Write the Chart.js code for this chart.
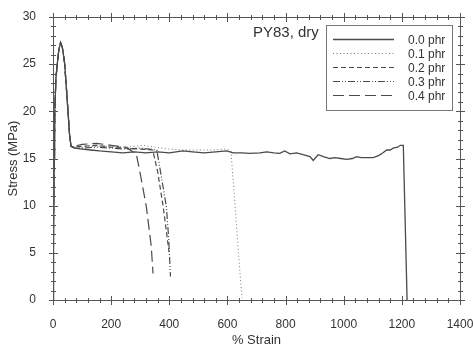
<!DOCTYPE html>
<html lang="en">
<head>
<meta charset="UTF-8" />
<title>PY83, dry</title>
<script src="https://cdn.jsdelivr.net/npm/chart.js"></script>
<style>
  body { margin: 0; background: #fff; }
  #wrap { position: relative; width: 473px; height: 348px; }
  #marco { position: absolute; left: 0; top: 0; pointer-events: none; }
</style>
</head>
<body>
<div id="wrap">
  <canvas id="grafico"></canvas>
  <canvas id="marco" width="473" height="348"></canvas>
</div>
<script>
// tick labels
const xTicks = [0, 200, 400, 600, 800, 1000, 1200, 1400];
const yTicks = [0, 5, 10, 15, 20, 25, 30];

// series names
const labels = ["0.0 phr", "0.1 phr", "0.2 phr", "0.3 phr", "0.4 phr"];

// 0.0 phr
const strain00 = [0, 2, 4, 6, 10, 15, 20, 26, 32, 40, 46, 52, 57, 62, 75, 100, 130, 160, 200, 240, 280, 320, 360, 400, 447, 480, 520, 560, 597, 620, 650, 677, 712, 735, 760, 780, 797, 815, 838, 860, 884, 895, 912, 930, 952, 970, 990, 1010, 1030, 1044, 1060, 1080, 1101, 1120, 1135, 1148, 1160, 1170, 1185, 1195, 1205, 1218];
const stress00 = [0, 8, 15, 19.8, 23.5, 25.1, 26.5, 27.3, 26.8, 25.1, 22.5, 19.8, 17.5, 16.3, 16.1, 16.0, 15.9, 15.8, 15.7, 15.6, 15.7, 15.6, 15.7, 15.6, 15.8, 15.7, 15.6, 15.7, 15.8, 15.6, 15.6, 15.55, 15.6, 15.7, 15.6, 15.55, 15.8, 15.5, 15.6, 15.4, 15.2, 14.8, 15.4, 15.2, 15.0, 15.1, 15.0, 14.9, 15.0, 15.2, 15.1, 15.1, 15.1, 15.3, 15.6, 15.9, 15.9, 16.1, 16.2, 16.4, 16.4, 0];

// 0.1 phr
const strain01 = [0, 2, 4, 6, 10, 15, 20, 26, 32, 40, 46, 52, 57, 62, 75, 100, 150, 200, 250, 309, 350, 400, 450, 500, 550, 590, 605, 612, 625, 638, 650];
const stress01 = [0, 8, 15, 19.8, 23.5, 25.1, 26.5, 27.2, 26.8, 25.1, 22.5, 19.8, 17.5, 16.3, 16.2, 16.2, 16.3, 16.3, 16.2, 16.4, 16.2, 16.0, 15.9, 15.9, 15.9, 16.0, 15.9, 15.8, 10.6, 5.0, 0.2];

// 0.2 phr
const strain02 = [0, 2, 4, 6, 10, 15, 20, 26, 32, 40, 46, 52, 57, 62, 75, 100, 150, 200, 250, 300, 343, 360, 379, 392, 399];
const stress02 = [0, 8, 15, 19.8, 23.5, 25.1, 26.5, 27.3, 26.8, 25.1, 22.5, 19.8, 17.5, 16.3, 16.2, 16.3, 16.4, 16.2, 16.1, 16.0, 15.9, 13.6, 9.9, 6.8, 5.1];

// 0.3 phr
const strain03 = [0, 2, 4, 6, 10, 15, 20, 26, 32, 40, 46, 52, 57, 62, 75, 100, 150, 200, 250, 300, 357, 372, 390, 398, 404];
const stress03 = [0, 8, 15, 19.8, 23.5, 25.1, 26.5, 27.2, 26.8, 25.1, 22.5, 19.8, 17.5, 16.3, 16.1, 16.1, 16.2, 16.1, 16.0, 16.1, 15.9, 13.2, 9.9, 6.5, 2.5];

// 0.4 phr
const strain04 = [0, 2, 4, 6, 10, 15, 20, 26, 32, 40, 46, 52, 57, 62, 75, 100, 150, 200, 250, 280, 287, 300, 321, 338, 344];
const stress04 = [0, 8, 15, 19.8, 23.5, 25.1, 26.5, 27.3, 26.8, 25.1, 22.5, 19.8, 17.5, 16.3, 16.3, 16.5, 16.6, 16.4, 16.2, 15.6, 15.4, 13.4, 9.9, 5.7, 2.8];

const series = [
  { x: strain00, y: stress00, dash: [],                 color: "#4a4a4a", width: 1.3 },
  { x: strain01, y: stress01, dash: [1, 2.5],           color: "#777",    width: 1 },
  { x: strain02, y: stress02, dash: [5, 3],             color: "#4a4a4a", width: 1.2 },
  { x: strain03, y: stress03, dash: [7, 2, 1, 2, 1, 2], color: "#4a4a4a", width: 1.2 },
  { x: strain04, y: stress04, dash: [11, 5],            color: "#4a4a4a", width: 1.2 },
];

const datasets = series.map((s, i) => ({
  label: labels[i],
  data: s.x.map((v, k) => ({ x: v, y: s.y[k] })),
  showLine: true,
  borderColor: s.color,
  borderWidth: s.width,
  borderDash: s.dash,
  pointRadius: 0,
  tension: 0,
  fill: false
}));

// frame + ticks on all four sides, drawn with 1px filled rects
function dibujarMarco(ctx, chart) {
  const a = chart.chartArea;
  const sx = chart.scales.x, sy = chart.scales.y;
  const L = Math.round(a.left), R = Math.round(a.right);
  const T = Math.round(a.top), B = Math.round(a.bottom);
  ctx.save();
  ctx.fillStyle = "#555";
  ctx.fillRect(L, T, R - L + 1, 1);
  ctx.fillRect(L, B, R - L + 1, 1);
  ctx.fillRect(L, T, 1, B - T + 1);
  ctx.fillRect(R, T, 1, B - T + 1);
  for (let v = 0; v <= 1400; v += 40) {
    const px = Math.round(sx.getPixelForValue(v));
    const len = v % 200 === 0 ? 4 : 2;
    ctx.fillRect(px, B - len, 1, 2 * len + 1);
    ctx.fillRect(px, T - len, 1, 2 * len + 1);
  }
  for (let v = 0; v <= 30; v += 1) {
    const py = Math.round(sy.getPixelForValue(v));
    const len = v % 5 === 0 ? 4 : 2;
    ctx.fillRect(L - len, py, 2 * len + 1, 1);
    ctx.fillRect(R - len, py, 2 * len + 1, 1);
  }
  ctx.restore();
}

const adornos = {
  id: "adornos",
  afterDraw(chart) {
    const ctx = chart.ctx;
    ctx.save();
    // sample name
    ctx.fillStyle = "#333";
    ctx.font = "15px 'Liberation Sans', Arial, sans-serif";
    ctx.textBaseline = "middle";
    ctx.textAlign = "left";
    ctx.fillText("PY83, dry", 253, 33);

    // legend box
    ctx.fillStyle = "#fff";
    ctx.fillRect(327, 26, 125, 84);
    ctx.fillStyle = "#777";
    ctx.fillRect(326, 25, 127, 1);
    ctx.fillRect(326, 110, 127, 1);
    ctx.fillRect(326, 25, 1, 86);
    ctx.fillRect(452, 25, 1, 86);
    ctx.font = "12px 'Liberation Sans', Arial, sans-serif";
    chart.data.datasets.forEach((d, i) => {
      const yy = 39.5 + i * 14;
      ctx.strokeStyle = d.borderColor;
      ctx.lineWidth = d.borderWidth;
      ctx.setLineDash(d.borderDash);
      ctx.beginPath();
      ctx.moveTo(333, yy);
      ctx.lineTo(394, yy);
      ctx.stroke();
      ctx.fillStyle = "#333";
      ctx.fillText(d.label, 408, yy + 1);
    });
    ctx.restore();

    dibujarMarco(ctx, chart);

    // same frame on an overlay canvas on top of the chart
    const capa = document.getElementById("marco");
    const c2 = capa.getContext("2d");
    c2.clearRect(0, 0, capa.width, capa.height);
    dibujarMarco(c2, chart);
  }
};

const fuente = { family: "'Liberation Sans', Arial, sans-serif", size: 12 };

new Chart(document.getElementById("grafico"), {
  type: "scatter",
  data: { datasets },
  plugins: [adornos],
  options: {
    responsive: true,
    maintainAspectRatio: false,
    animation: false,
    layout: { padding: { top: 17, right: 13, left: 0, bottom: 0 } },
    plugins: { legend: { display: false }, tooltip: { enabled: false } },
    scales: {
      x: {
        type: "linear",
        min: 0, max: 1400,
        afterBuildTicks: s => { s.ticks = xTicks.map(v => ({ value: v })); },
        afterFit: s => { s.height = 48; s.paddingRight = 0; s.paddingLeft = 0; },
        grid: { display: false },
        border: { display: false },
        ticks: { color: "#333", font: fuente, padding: 9, maxRotation: 0, callback: v => String(v) },
        title: { display: true, text: "% Strain", color: "#333",
                 font: { family: fuente.family, size: 13 }, padding: 0 }
      },
      y: {
        type: "linear",
        min: 0, max: 30,
        afterBuildTicks: s => { s.ticks = yTicks.map(v => ({ value: v })); },
        afterFit: s => { s.width = 53; },
        grid: { display: false },
        border: { display: false },
        ticks: { color: "#333", font: fuente, padding: 9, callback: v => String(v) },
        title: { display: true, text: "Stress (MPa)", color: "#333",
                 font: { family: fuente.family, size: 13 }, padding: { top: 6, bottom: 0 } }
      }
    }
  }
});
</script>
</body>
</html>
